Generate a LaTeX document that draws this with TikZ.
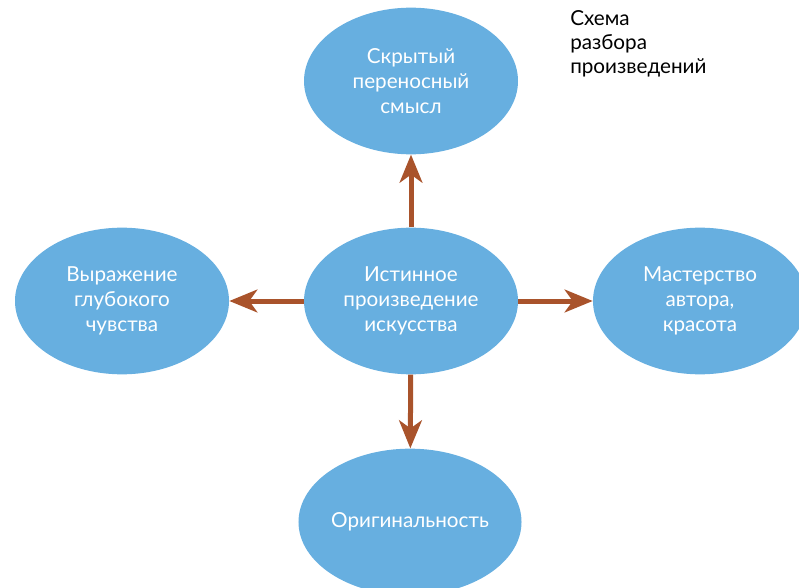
\documentclass[tikz,border=0pt]{standalone}
\usepackage{fontspec}
\setmainfont{Lato}
\usetikzlibrary{shapes.geometric,arrows.meta}
\definecolor{bubble}{HTML}{67AFE0}
\definecolor{rust}{HTML}{A9532B}
\tikzset{
  idea/.style={ellipse, fill=bubble, draw=none, inner sep=0pt,
    minimum width=160.5pt, minimum height=110pt, align=center,
    text=white, font=\fontsize{15.5pt}{19pt}\selectfont},
  link/.style={draw=rust, line width=3.75pt,
    -{Stealth[length=21pt,width=17pt,inset=6pt]}}
}
\begin{document}
\begin{tikzpicture}[x=0.75pt,y=-0.75pt]
      \useasboundingbox (0,0) rectangle (799,588);
      \clip (0,0) rectangle (799,588);
      \path
        (411,81) node[idea] (top){Скрытый\\переносный\\смысл}
        (411,301) node[idea] (centre){Истинное\\произведение\\искусства}
        (122,301) node[idea] (left){Выражение\\глубокого\\чувства}
        (700,301) node[idea] (right){Мастерство\\автора,\\красота}
        (410,522) node[idea] (bottom){Оригинальность};
      \node[anchor=north west, align=left, inner sep=0pt,
        font=\fontsize{15.5pt}{18pt}\selectfont] (title) at (570,10)
        {Схема\\разбора\\произведений};
      \begin{scope}[link]
        \draw (centre) to (top);
        \draw (centre) to (left);
        \draw (centre) to (right);
        \draw (centre) to (bottom);
      \end{scope}
    \end{tikzpicture}
\end{document}
